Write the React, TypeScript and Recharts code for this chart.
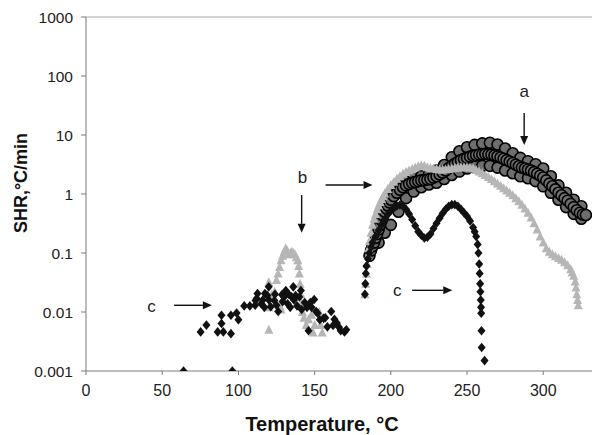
import { ScatterChart, Scatter, XAxis, YAxis, ReferenceLine, ReferenceDot, Label } from 'recharts';

// [temperature °C, SHR °C/min]
const seriesA: [number, number][] = [
  [186, 0.09], [187, 0.11], [188, 0.13], [189, 0.15], [190, 0.18], [191, 0.21], [192, 0.25], [193, 0.3],
  [194, 0.36], [195, 0.43], [196, 0.5], [197, 0.57], [198, 0.64], [199, 0.72], [200, 0.8], [202, 0.92],
  [204, 1.05], [206, 1.18], [208, 1.3], [210, 1.4], [212, 1.48], [214, 1.55], [216, 1.6], [218, 1.65],
  [220, 1.7], [222, 1.72], [224, 1.75], [226, 1.8], [228, 1.9], [230, 2.0], [232, 2.15], [234, 2.3],
  [236, 2.5], [238, 2.75], [240, 3.0], [242, 3.25], [244, 3.5], [246, 3.75], [248, 3.95], [250, 4.1],
  [252, 4.3], [254, 4.45], [256, 4.55], [258, 4.65], [260, 4.7], [262, 4.75], [264, 4.7], [266, 4.65],
  [268, 4.5], [270, 4.35], [272, 4.15], [274, 3.95], [276, 3.75], [278, 3.55], [280, 3.35], [282, 3.15],
  [284, 2.95], [286, 2.8], [288, 2.7], [290, 2.6], [292, 2.5], [294, 2.35], [296, 2.2], [298, 2.05],
  [300, 1.9], [302, 1.7], [304, 1.5], [306, 1.35], [308, 1.2], [310, 1.05], [312, 0.95], [314, 0.85],
  [316, 0.77], [318, 0.68], [320, 0.6], [322, 0.53], [324, 0.48], [326, 0.45], [328, 0.44],
];
const seriesAUpper: [number, number][] = [
  [200, 1.05], [205, 1.45], [210, 1.75], [215, 1.9], [220, 2.0], [225, 2.15], [230, 2.5], [235, 3.1],
  [240, 4.2], [245, 5.3], [250, 6.2], [255, 6.8], [260, 7.2], [265, 7.4], [270, 6.9], [275, 5.9],
  [280, 4.9], [285, 4.1], [290, 3.6], [295, 3.2], [300, 2.7], [305, 2.0], [310, 1.4], [315, 1.05],
  [320, 0.8], [325, 0.62],
];
const seriesALower: [number, number][] = [
  [192, 0.15], [196, 0.22], [200, 0.3], [205, 0.5], [210, 0.85], [215, 1.1], [220, 1.3], [225, 1.45],
  [230, 1.55], [235, 1.8], [240, 2.1], [245, 2.4], [250, 2.7], [255, 2.9], [260, 3.0], [265, 3.0],
  [270, 2.8], [275, 2.5], [280, 2.25], [285, 2.0], [290, 1.85], [295, 1.65], [300, 1.35], [305, 1.05],
  [310, 0.8], [315, 0.6], [320, 0.46], [325, 0.38],
];

const seriesBLow: [number, number][] = [
  [120, 0.032], [120, 0.012], [120, 0.005], [122, 0.02], [123.8, 0.022], [125, 0.035], [126, 0.045],
  [127, 0.058], [128, 0.075], [129, 0.09], [130, 0.105], [131, 0.12], [132, 0.11], [133, 0.095],
  [134, 0.1], [135, 0.105], [136, 0.1], [137, 0.095], [138, 0.085], [139, 0.075], [139.5, 0.06],
  [140, 0.045], [140.5, 0.03], [141, 0.02], [141.5, 0.014], [142, 0.01], [143, 0.008], [144.5, 0.006],
  [146, 0.0075], [148, 0.009], [149, 0.0045], [150, 0.006], [153, 0.01], [154, 0.006], [155, 0.0045],
  [127, 0.013], [128, 0.011],
];
const seriesBHigh: [number, number][] = [
  [183, 0.02], [183.5, 0.03], [184, 0.045], [184.5, 0.065], [185, 0.09], [185.5, 0.12], [186, 0.16],
  [187, 0.22], [188, 0.3], [189, 0.38], [190, 0.46], [191, 0.55], [192, 0.64], [193, 0.73], [194, 0.82],
  [195, 0.92], [196, 1.02], [198, 1.22], [200, 1.42], [202, 1.62], [204, 1.82], [206, 2.0], [208, 2.2],
  [210, 2.35], [212, 2.5], [214, 2.65], [216, 2.8], [218, 2.95], [220, 3.05], [222, 3.0], [224, 2.85],
  [226, 2.75], [228, 2.7], [230, 2.65], [232, 2.6], [234, 2.6], [236, 2.6], [238, 2.65], [240, 2.7],
  [242, 2.75], [244, 2.8], [246, 2.85], [248, 2.85], [250, 2.85], [252, 2.8], [254, 2.7], [256, 2.55],
  [258, 2.4], [260, 2.25], [262, 2.1], [264, 1.95], [266, 1.8], [268, 1.65], [270, 1.5], [272, 1.38],
  [274, 1.25], [276, 1.15], [278, 1.05], [280, 0.95], [282, 0.85], [284, 0.75], [286, 0.66], [288, 0.57],
  [290, 0.48], [292, 0.4], [294, 0.32], [296, 0.25], [298, 0.19], [300, 0.15], [302, 0.12], [304, 0.105],
  [306, 0.095], [308, 0.088], [310, 0.082], [312, 0.077], [314, 0.07], [316, 0.062], [318, 0.053],
  [319, 0.047], [320, 0.041], [321, 0.033], [321.5, 0.026], [322, 0.02], [322.5, 0.016], [323, 0.013],
];

const seriesCLow: [number, number][] = [
  [64, 0.001], [75.2, 0.0046], [79, 0.006], [86.4, 0.0046], [88.9, 0.0088], [88.9, 0.0064], [90.1, 0.0046],
  [95.1, 0.0088], [95.1, 0.0043], [96, 0.001], [98.8, 0.0096], [100, 0.0074], [103.8, 0.0127],
  [107.5, 0.0127], [111.2, 0.0157], [112.5, 0.0205], [115, 0.0138], [117.4, 0.0205], [119.9, 0.0267],
  [121.2, 0.0123], [123.6, 0.0157], [126.1, 0.0102], [128.6, 0.0197], [131.1, 0.0232], [132.3, 0.0138],
  [134.8, 0.0181], [136, 0.0267], [138.5, 0.0127], [141, 0.0232], [143.5, 0.0145], [146, 0.0048],
  [147.2, 0.0145], [149.7, 0.0163], [151, 0.0102], [153.4, 0.0074], [155.9, 0.0078], [158.4, 0.0056],
  [160.9, 0.0102], [162.1, 0.0059], [164.6, 0.0065], [167.1, 0.0048], [169.6, 0.0046], [170.8, 0.005],
  [111, 0.013], [112, 0.017], [116, 0.016], [117, 0.012], [119, 0.019], [120, 0.016], [124, 0.02],
  [125, 0.013], [129, 0.015], [130, 0.018], [133, 0.02], [134, 0.012], [136.5, 0.016], [137.5, 0.019],
  [140, 0.018], [141.5, 0.011], [145, 0.012], [148, 0.012], [152, 0.0095], [157, 0.008], [163, 0.0075],
  [166, 0.0055],
];
const seriesCHigh: [number, number][] = [
  [183, 0.02], [183.3, 0.03], [183.6, 0.045], [184, 0.06], [185, 0.08], [186, 0.1], [187, 0.125],
  [188, 0.15], [190, 0.19], [192, 0.24], [194, 0.3], [196, 0.37], [198, 0.45], [200, 0.52], [202, 0.58],
  [204, 0.63], [206, 0.65], [208, 0.62], [210, 0.55], [212, 0.46], [214, 0.37], [216, 0.29], [218, 0.23],
  [220, 0.2], [222, 0.18], [224, 0.185], [226, 0.21], [228, 0.26], [230, 0.32], [232, 0.39], [234, 0.47],
  [236, 0.55], [238, 0.62], [240, 0.66], [242, 0.66], [244, 0.62], [246, 0.55], [248, 0.48], [250, 0.42],
  [252, 0.35], [254, 0.27], [255, 0.23], [256, 0.19], [257, 0.14], [257.5, 0.1], [258, 0.065],
  [258.3, 0.045], [258.6, 0.03], [258.8, 0.022], [259, 0.016], [259.2, 0.012], [259.3, 0.0095],
  [259.5, 0.0048], [259.6, 0.0025], [261.5, 0.0015],
];

const xTicks = [0, 50, 100, 150, 200, 250, 300];
const yTicks = [0.001, 0.01, 0.1, 1, 10, 100, 1000];
const yTickLabels = ['0.001', '0.01', '0.1', '1', '10', '100', '1000'];

// annotation letters and arrows, in data coordinates
const letters = [
  { text: 'a', t: 287.5, v: 54 },
  { text: 'b', t: 142, v: 1.87 },
  { text: 'c', t: 43, v: 0.0126 },
  { text: 'c', t: 204.3, v: 0.0228 },
];
const arrows = [
  { from: [287.5, 23.7], to: [287.5, 6.8] },
  { from: [141.5, 0.96], to: [141.5, 0.22] },
  { from: [157.2, 1.42], to: [188, 1.42] },
  { from: [57.8, 0.013], to: [82.6, 0.013] },
  { from: [214, 0.0233], to: [240.3, 0.0233] },
];

const pts = (rows: [number, number][]) => rows.map(([t, v]) => ({ t, v }));

const FONT = '"Liberation Sans", Arial, sans-serif';

const CircleMark = (p: any) => (
  <circle cx={p.cx} cy={p.cy} r={5.5} fill="#6e6e6e" stroke="#000" strokeWidth={1.6} />
);
const TriangleMark = (p: any) => (
  <polygon points={`${p.cx},${p.cy - 5} ${p.cx + 4.5},${p.cy + 4} ${p.cx - 4.5},${p.cy + 4}`} fill="#b6b6b6" />
);
const DiamondMark = (p: any) => (
  <polygon points={`${p.cx},${p.cy - 4.8} ${p.cx + 4},${p.cy} ${p.cx},${p.cy + 4.8} ${p.cx - 4},${p.cy}`} fill="#111" />
);

const Arrow = (p: any) => {
  const { x1, y1, x2, y2 } = p;
  const ang = Math.atan2(y2 - y1, x2 - x1);
  const len = 9;
  const w = 4;
  const bx = x2 - len * Math.cos(ang);
  const by = y2 - len * Math.sin(ang);
  const nx = -Math.sin(ang) * w;
  const ny = Math.cos(ang) * w;
  return (
    <g>
      <line x1={x1} y1={y1} x2={bx} y2={by} stroke="#111" strokeWidth={1.4} />
      <polygon points={`${x2},${y2} ${bx + nx},${by + ny} ${bx - nx},${by - ny}`} fill="#111" />
    </g>
  );
};

export default function App() {
  return (
    <div style={{ position: 'absolute', left: 0, top: 0, width: 594, height: 435, background: '#fff' }}>
      <ScatterChart width={594} height={435} margin={{ top: 17, right: 2, bottom: 0, left: 0 }}>
        <XAxis
          dataKey="t"
          type="number"
          domain={[0, 332]}
          ticks={xTicks}
          allowDataOverflow
          height={64}
          tickSize={4}
          tickMargin={10}
          stroke="#7a7a7a"
          tick={{ fill: '#222', fontSize: 16, fontFamily: FONT }}
        >
          <Label
            content={() => (
              <text x={322} y={431} textAnchor="middle" fontFamily={FONT} fontSize={20} fontWeight="bold" fill="#111">
                Temperature, °C
              </text>
            )}
          />
        </XAxis>
        <YAxis
          dataKey="v"
          type="number"
          scale="log"
          domain={[0.001, 1000]}
          ticks={yTicks}
          tickFormatter={(v: number) => yTickLabels[yTicks.indexOf(v)] ?? String(v)}
          allowDataOverflow
          width={86}
          tickSize={5}
          tickMargin={8}
          stroke="#7a7a7a"
          tick={{ fill: '#222', fontSize: 15.5, fontFamily: FONT }}
        >
          <Label
            content={() => (
              <text
                x={21}
                y={183}
                transform="rotate(-90 21 183)"
                textAnchor="middle"
                dominantBaseline="central"
                fontFamily={FONT}
                fontSize={18}
                fontWeight="bold"
                fill="#111"
              >
                SHR,°C/min
              </text>
            )}
          />
        </YAxis>
        <ReferenceLine y={1000} stroke="#c4c4c4" strokeWidth={1.5} />

        <Scatter data={pts(seriesALower)} shape={CircleMark} isAnimationActive={false} />
        <Scatter data={pts(seriesAUpper)} shape={CircleMark} isAnimationActive={false} />
        <Scatter data={pts(seriesA)} shape={CircleMark} isAnimationActive={false} />
        <Scatter data={pts(seriesBLow)} shape={TriangleMark} isAnimationActive={false} />
        <Scatter data={pts(seriesBHigh)} shape={TriangleMark} isAnimationActive={false} />
        <Scatter data={pts(seriesCLow)} shape={DiamondMark} isAnimationActive={false} />
        <Scatter data={pts(seriesCHigh)} shape={DiamondMark} isAnimationActive={false} />

        {arrows.map((a, i) => (
          <ReferenceLine
            key={`ar${i}`}
            segment={[{ x: a.from[0], y: a.from[1] }, { x: a.to[0], y: a.to[1] }]}
            shape={Arrow}
          />
        ))}
        {letters.map((l, i) => (
          <ReferenceDot
            key={`lt${i}`}
            x={l.t}
            y={l.v}
            r={1}
            shape={(p: any) => (
              <text x={p.cx} y={p.cy} textAnchor="middle" dominantBaseline="central" fontFamily={FONT} fontSize={17} fill="#222">
                {l.text}
              </text>
            )}
          />
        ))}
      </ScatterChart>
    </div>
  );
}
